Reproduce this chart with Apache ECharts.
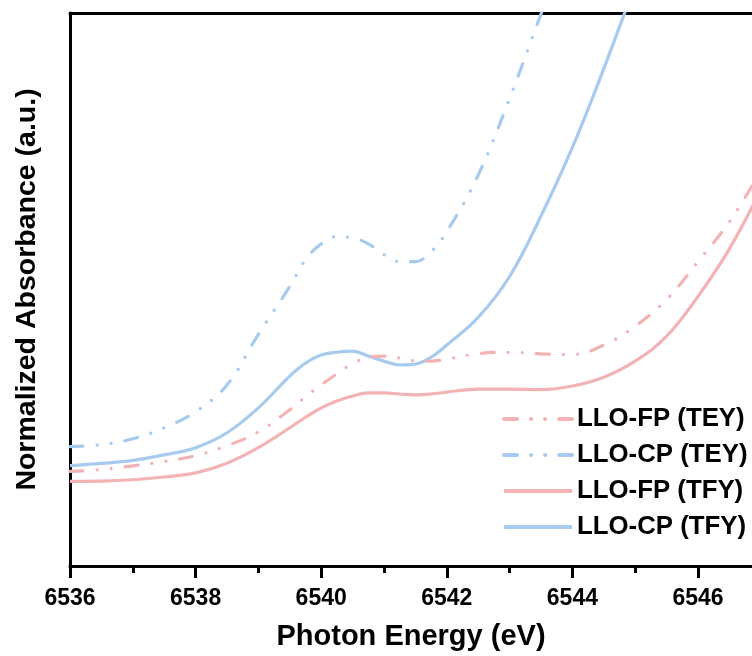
<!DOCTYPE html>
<html>
<head>
<meta charset="utf-8">
<script src="https://cdn.jsdelivr.net/npm/echarts@6/dist/echarts.min.js"></script>
<style>
html,body{margin:0;padding:0;background:#fff;}
#chart{width:752px;height:656px;}
</style>
</head>
<body>
<div id="chart"></div>
<script>
var energy = [6536, 6536.5, 6537, 6537.5, 6538, 6538.5, 6539, 6539.5, 6539.75, 6540, 6540.25, 6540.5, 6540.75, 6541, 6541.25, 6541.5, 6541.75, 6542, 6542.5, 6543, 6543.5, 6544, 6544.5, 6545, 6545.5, 6546, 6546.5, 6547];
var fpTEY = [0.342, 0.349, 0.362, 0.378, 0.399, 0.435, 0.485, 0.565, 0.612, 0.655, 0.695, 0.732, 0.755, 0.759, 0.752, 0.742, 0.741, 0.748, 0.768, 0.773, 0.767, 0.765, 0.799, 0.867, 0.964, 1.101, 1.245, 1.428];
var cpTEY = [0.432, 0.439, 0.460, 0.500, 0.558, 0.655, 0.838, 1.011, 1.108, 1.165, 1.191, 1.187, 1.165, 1.126, 1.101, 1.101, 1.137, 1.209, 1.414, 1.691, 1.996, 2.29, null, null, null, null, null, null];
var fpTFY = [0.306, 0.307, 0.312, 0.322, 0.337, 0.372, 0.428, 0.500, 0.538, 0.572, 0.597, 0.615, 0.626, 0.626, 0.622, 0.619, 0.622, 0.629, 0.640, 0.640, 0.638, 0.651, 0.683, 0.741, 0.831, 0.975, 1.147, 1.360];
var cpTFY = [0.363, 0.371, 0.382, 0.402, 0.428, 0.482, 0.572, 0.687, 0.734, 0.763, 0.773, 0.777, 0.759, 0.741, 0.727, 0.730, 0.755, 0.799, 0.899, 1.047, 1.266, 1.514, 1.799, 2.104, null, null, null, null];
var seriesNames = ['LLO-FP (TEY)', 'LLO-CP (TEY)', 'LLO-FP (TFY)', 'LLO-CP (TFY)'];
var majorTicks = [6536, 6538, 6540, 6542, 6544, 6546];
var minorTicks = [6537, 6539, 6541, 6543, 6545];
var xMin = 6536, xMax = 6546.86;
var xTitle = 'Photon Energy (eV)';
var yTitle = 'Normalized Absorbance (a.u.)';

var PINK = '#F3B3B5', BLUE = '#A6CBEE';
var FONT = '"Liberation Sans", Arial, sans-serif';
function pairs(ys){ return energy.map(function(e,i){ return [e, ys[i]]; }); }
var dashDotDot = [13, 14, 0.1, 14, 0.1, 14];

var chart = echarts.init(document.getElementById('chart'), null, {renderer:'canvas'});
chart.setOption({
  backgroundColor: '#fff',
  animation: false,
  grid: {left: 70, right: 0, top: 13, bottom: 88, containLabel: false},
  legend: {
    orient: 'vertical', left: 502, top: 406, padding: 0,
    itemWidth: 68, itemHeight: 14, itemGap: 10,
    itemStyle: {opacity: 0},
    lineStyle: {width: 4},
    textStyle: {fontFamily: FONT, fontWeight: 'bold', fontSize: 25.8, color: '#000', lineHeight: 25},
    data: seriesNames
  },
  xAxis: [
    {type: 'value', min: xMin, max: xMax, interval: 2,
     name: xTitle, nameLocation: 'middle', nameGap: 56,
     nameTextStyle: {fontFamily: FONT, fontWeight: 'bold', fontSize: 29, color: '#000'},
     axisLine: {show: true, onZero: false, lineStyle: {color: '#000', width: 3}},
     axisTick: {show: true, length: 12, customValues: majorTicks, lineStyle: {color: '#000', width: 3}},
     axisLabel: {fontFamily: FONT, fontWeight: 'bold', fontSize: 23, color: '#000', margin: 21,
       customValues: majorTicks,
       formatter: function(v){ return (v % 2 === 0) ? String(v) : ''; }},
     splitLine: {show: false}},
    {type: 'value', min: xMin, max: xMax, interval: 1, position: 'bottom',
     axisLine: {show: false},
     axisTick: {show: true, length: 7, customValues: minorTicks, lineStyle: {color: '#000', width: 3}},
     axisLabel: {show: false}, splitLine: {show: false}},
    {type: 'value', min: xMin, max: xMax, position: 'top',
     axisLine: {show: true, onZero: false, lineStyle: {color: '#000', width: 3}},
     axisTick: {show: false}, axisLabel: {show: false}, splitLine: {show: false}}
  ],
  yAxis: {type: 'value', min: 0, max: 2,
    name: yTitle, nameLocation: 'middle', nameGap: 28,
    nameTextStyle: {fontFamily: FONT, fontWeight: 'bold', fontSize: 28.5, color: '#000'},
    axisLine: {show: true, onZero: false, lineStyle: {color: '#000', width: 3}},
    axisTick: {show: false}, axisLabel: {show: false}, splitLine: {show: false}},
  series: [
    {name: seriesNames[2], type: 'line', data: pairs(fpTFY), smooth: 0.4, showSymbol: false, symbol: 'none', clip: true,
     lineStyle: {color: PINK, width: 3.2}, itemStyle: {color: PINK}},
    {name: seriesNames[3], type: 'line', data: pairs(cpTFY), smooth: 0.4, showSymbol: false, symbol: 'none', clip: true,
     lineStyle: {color: BLUE, width: 3.2}, itemStyle: {color: BLUE}},
    {name: seriesNames[0], type: 'line', data: pairs(fpTEY), smooth: 0.4, showSymbol: false, symbol: 'none', clip: true,
     lineStyle: {color: PINK, width: 3.2, type: dashDotDot, cap: 'round'}, itemStyle: {color: PINK}},
    {name: seriesNames[1], type: 'line', data: pairs(cpTEY), smooth: 0.4, showSymbol: false, symbol: 'none', clip: true,
     lineStyle: {color: BLUE, width: 3.2, type: dashDotDot, cap: 'round'}, itemStyle: {color: BLUE}}
  ]
});
</script>
</body>
</html>
